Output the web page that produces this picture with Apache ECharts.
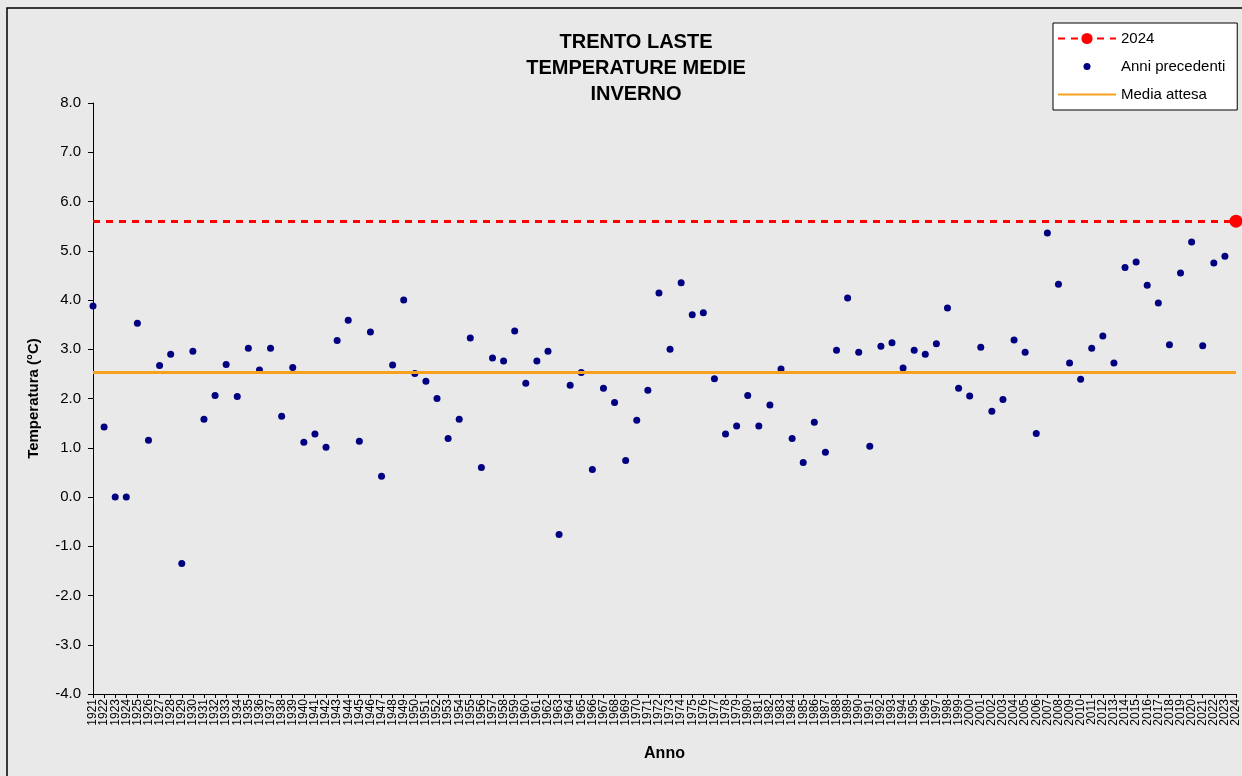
<!DOCTYPE html>
<html>
<head>
<meta charset="utf-8">
<script src="https://cdn.jsdelivr.net/npm/echarts@6/dist/echarts.min.js"></script>
<style>
html,body{margin:0;padding:0;background:#e9e9e9;}
#c{width:1242px;height:776px;}
</style>
</head>
<body>
<div id="c"></div>
<script>
const years = ['1921','1922','1923','1924','1925','1926','1927','1928','1929','1930',
'1931','1932','1933','1934','1935','1936','1937','1938','1939','1940',
'1941','1942','1943','1944','1945','1946','1947','1948','1949','1950',
'1951','1952','1953','1954','1955','1956','1957','1958','1959','1960',
'1961','1962','1963','1964','1965','1966','1967','1968','1969','1970',
'1971','1972','1973','1974','1975','1976','1977','1978','1979','1980',
'1981','1982','1983','1984','1985','1986','1987','1988','1989','1990',
'1991','1992','1993','1994','1995','1996','1997','1998','1999','2000',
'2001','2002','2003','2004','2005','2006','2007','2008','2009','2010',
'2011','2012','2013','2014','2015','2016','2017','2018','2019','2020',
'2021','2022','2023','2024'];

// Winter mean temperatures 1921-2023 ("Anni precedenti")
const tempPrev = [
 3.88, 1.42, 0.00, 0.00, 3.53, 1.15, 2.67, 2.90, -1.35, 2.96,
 1.58, 2.06, 2.69, 2.04, 3.02, 2.58, 3.02, 1.64, 2.63, 1.11,
 1.28, 1.01, 3.18, 3.59, 1.13, 3.35, 0.42, 2.68, 4.00, 2.51,
 2.35, 2.00, 1.19, 1.58, 3.23, 0.60, 2.82, 2.76, 3.37, 2.31,
 2.76, 2.96, -0.76, 2.27, 2.53, 0.56, 2.21, 1.92, 0.74, 1.56,
 2.17, 4.14, 3.00, 4.35, 3.70, 3.74, 2.40, 1.28, 1.44, 2.06,
 1.44, 1.87, 2.60, 1.19, 0.70, 1.52, 0.91, 2.98, 4.04, 2.94,
 1.03, 3.06, 3.13, 2.62, 2.98, 2.90, 3.11, 3.84, 2.21, 2.05,
 3.04, 1.74, 1.98, 3.19, 2.94, 1.29, 5.36, 4.32, 2.72, 2.39,
 3.02, 3.27, 2.72, 4.66, 4.77, 4.30, 3.94, 3.09, 4.55, 5.18,
 3.07, 4.75, 4.89
];
const value2024 = 5.6;
const mediaAttesa = 2.54;
const yTicks = [-4, 8, 1]; // min, max, interval

const font = "'Liberation Sans', Arial, sans-serif";
const chart = echarts.init(document.getElementById('c'));

const data2024 = years.map((y, i) => (i === years.length - 1 ? value2024 : '-'));
const smallDot = 'path://M0,0M14,14M3.5,7A3.5,3.5,0,1,0,10.5,7A3.5,3.5,0,1,0,3.5,7Z';

chart.setOption({
  backgroundColor: '#e9e9e9',
  animation: false,
  textStyle: { fontFamily: font },
  graphic: [{
    type: 'rect', z: -1,
    shape: { x: 7, y: 8, width: 1250, height: 780 },
    style: { fill: 'none', stroke: '#000', lineWidth: 1.5 }
  }],
  title: {
    text: 'TRENTO LASTE\nTEMPERATURE MEDIE\nINVERNO',
    left: 631, top: 24, textAlign: 'center',
    textStyle: { fontFamily: font, fontSize: 20, fontWeight: 'bold', color: '#000', lineHeight: 26 }
  },
  legend: {
    data: [
      { name: '2024' },
      { name: 'Anni precedenti', icon: smallDot },
      { name: 'Media attesa', itemStyle: { opacity: 0 } }
    ],
    orient: 'vertical',
    left: 1053, top: 23,
    itemWidth: 58, itemHeight: 14, itemGap: 13,
    padding: [8, 12, 8, 4],
    backgroundColor: '#ffffff', borderColor: '#000', borderWidth: 1,
    textStyle: { fontFamily: font, fontSize: 15, lineHeight: 14, color: '#000' }
  },
  grid: { left: 93, right: 4, top: 103, bottom: 82 },
  xAxis: {
    type: 'category', data: years, boundaryGap: false,
    axisLine: { onZero: false, lineStyle: { color: '#000', width: 1 } },
    axisTick: { show: true, length: 4, interval: 0, lineStyle: { color: '#000' } },
    axisLabel: { rotate: 90, interval: 0, fontSize: 12, color: '#000', margin: 5, fontFamily: font },
    splitLine: { show: false },
    name: 'Anno', nameLocation: 'middle', nameGap: 52,
    nameTextStyle: { fontFamily: font, fontSize: 16, fontWeight: 'bold', color: '#000' }
  },
  yAxis: {
    type: 'value', min: yTicks[0], max: yTicks[1], interval: yTicks[2],
    axisLine: { show: true, lineStyle: { color: '#000', width: 1 } },
    axisTick: { show: true, length: 5, lineStyle: { color: '#000' } },
    axisLabel: { formatter: v => v.toFixed(1), fontSize: 15, color: '#000', margin: 12, fontFamily: font },
    splitLine: { show: false },
    name: 'Temperatura (°C)', nameLocation: 'middle', nameGap: 52,
    nameTextStyle: { fontFamily: font, fontSize: 15, fontWeight: 'bold', color: '#000' }
  },
  series: [
    {
      name: 'Media attesa', type: 'line', data: [], symbol: 'none',
      itemStyle: { color: '#f5a11e' },
      lineStyle: { color: '#f5a11e', width: 3 },
      markLine: {
        silent: true, symbol: 'none', label: { show: false },
        lineStyle: { color: '#f5a11e', width: 3, type: 'solid' },
        data: [{ yAxis: mediaAttesa }]
      },
      z: 1
    },
    {
      name: 'Anni precedenti', type: 'scatter', data: tempPrev,
      symbol: 'circle', symbolSize: 7,
      itemStyle: { color: '#000080', opacity: 1 },
      z: 3
    },
    {
      name: '2024', type: 'line', data: data2024, clip: false,
      symbol: 'circle', symbolSize: 13, showAllSymbol: true,
      itemStyle: { color: '#ff0000' },
      lineStyle: { color: '#ff0000', width: 3, type: [7, 6] },
      markLine: {
        silent: true, symbol: 'none', label: { show: false },
        lineStyle: { color: '#ff0000', width: 3, type: [7, 6] },
        data: [{ yAxis: value2024 }]
      },
      z: 2
    }
  ]
});
</script>
</body>
</html>
